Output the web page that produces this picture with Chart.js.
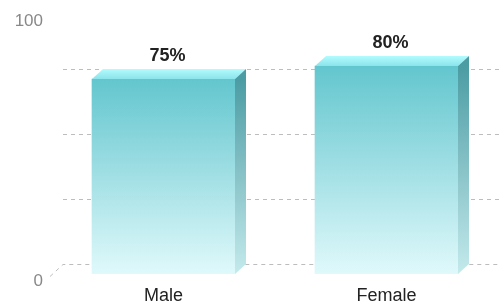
<!DOCTYPE html>
<html>
<head>
<meta charset="utf-8">
<script src="https://cdn.jsdelivr.net/npm/chart.js@4/dist/chart.umd.min.js"></script>
<style>
  html, body { margin: 0; padding: 0; background: #fff; }
  #wrap { width: 500px; height: 306px; }
</style>
</head>
<body>
<div id="wrap"><canvas id="chart"></canvas></div>
<script>
var categories = ['Male', 'Female'];
var values = [75, 80];
var gridValues = [0, 25, 50, 75];
var yMin = 0;
var yMax = 100;

var depthX = 11; // 3d depth of the bars
var depthY = 10;

function frontFill(context) {
    var chart = context.chart;
    if (!chart.chartArea) return '#66c8d0';
    var y = chart.scales.y;
    var top = y.getPixelForValue(values[context.dataIndex]);
    var g = chart.ctx.createLinearGradient(0, top, 0, y.getPixelForValue(0));
    g.addColorStop(0, '#63c6ce');
    g.addColorStop(1, '#e0f9fb');
    return g;
}

var backGrid = {
    id: 'backGrid',
    beforeDatasetsDraw: function (chart) {
        var ctx = chart.ctx, area = chart.chartArea, y = chart.scales.y;
        ctx.save();
        ctx.strokeStyle = '#bdbdbd';
        ctx.lineWidth = 1;
        ctx.setLineDash([4, 4]);
        gridValues.forEach(function (v) {
            var py = Math.round(y.getPixelForValue(v) - depthY) + 0.5;
            ctx.beginPath();
            if (v === 0) {
                ctx.moveTo(area.left - 2, py + depthY + 2);
                ctx.lineTo(area.left + depthX, py);
            } else {
                ctx.moveTo(area.left + depthX, py);
            }
            ctx.lineTo(chart.width, py);
            ctx.stroke();
        });
        ctx.restore();
    }
};

var bars3d = {
    id: 'bars3d',
    afterDatasetsDraw: function (chart) {
        var ctx = chart.ctx;
        var meta = chart.getDatasetMeta(0);
        ctx.save();
        meta.data.forEach(function (bar, i) {
            var x0 = bar.x - bar.width / 2;
            var x1 = bar.x + bar.width / 2;
            var top = bar.y;
            var base = bar.base;

            // top face
            var gt = ctx.createLinearGradient(0, top, 0, top - depthY);
            gt.addColorStop(0, '#8ae4ea');
            gt.addColorStop(1, '#b2fcfe');
            ctx.fillStyle = gt;
            ctx.beginPath();
            ctx.moveTo(x0, top);
            ctx.lineTo(x1, top);
            ctx.lineTo(x1 + depthX, top - depthY);
            ctx.lineTo(x0 + depthX, top - depthY);
            ctx.closePath();
            ctx.fill();

            // side face
            var gs = ctx.createLinearGradient(0, top, 0, base);
            gs.addColorStop(0, '#4c9ca4');
            gs.addColorStop(1, '#c4eaec');
            ctx.fillStyle = gs;
            ctx.beginPath();
            ctx.moveTo(x1, top);
            ctx.lineTo(x1 + depthX, top - depthY);
            ctx.lineTo(x1 + depthX, base - depthY);
            ctx.lineTo(x1, base);
            ctx.closePath();
            ctx.fill();

            // value label
            ctx.fillStyle = '#222';
            ctx.font = 'bold 18px "Liberation Sans", Arial, sans-serif';
            ctx.textAlign = 'center';
            ctx.textBaseline = 'middle';
            ctx.fillText(values[i] + '%', bar.x + 4, top - depthY - 13);
        });
        ctx.restore();
    }
};

new Chart(document.getElementById('chart'), {
    type: 'bar',
    data: {
        labels: categories,
        datasets: [{
            data: values,
            backgroundColor: frontFill,
            borderWidth: 0,
            barThickness: 143
        }]
    },
    options: {
        responsive: true,
        maintainAspectRatio: false,
        animation: false,
        layout: { padding: { top: 14, right: 2, left: 0, bottom: 0 } },
        plugins: {
            legend: { display: false },
            tooltip: { enabled: false }
        },
        scales: {
            x: {
                grid: { display: false, drawTicks: false },
                border: { display: false },
                ticks: {
                    padding: 11,
                    color: '#222',
                    font: { family: '"Liberation Sans", Arial, sans-serif', size: 18 }
                },
                afterFit: function (scale) { scale.height = 32; }
            },
            y: {
                min: yMin,
                max: yMax,
                grid: { display: false, drawTicks: false },
                border: { display: false },
                ticks: {
                    stepSize: 100,
                    padding: 9,
                    labelOffset: 7,
                    color: '#888',
                    font: { family: '"Liberation Sans", Arial, sans-serif', size: 17, lineHeight: 0.4 }
                },
                afterFit: function (scale) { scale.width = 52; }
            }
        }
    },
    plugins: [backGrid, bars3d]
});
</script>
</body>
</html>
